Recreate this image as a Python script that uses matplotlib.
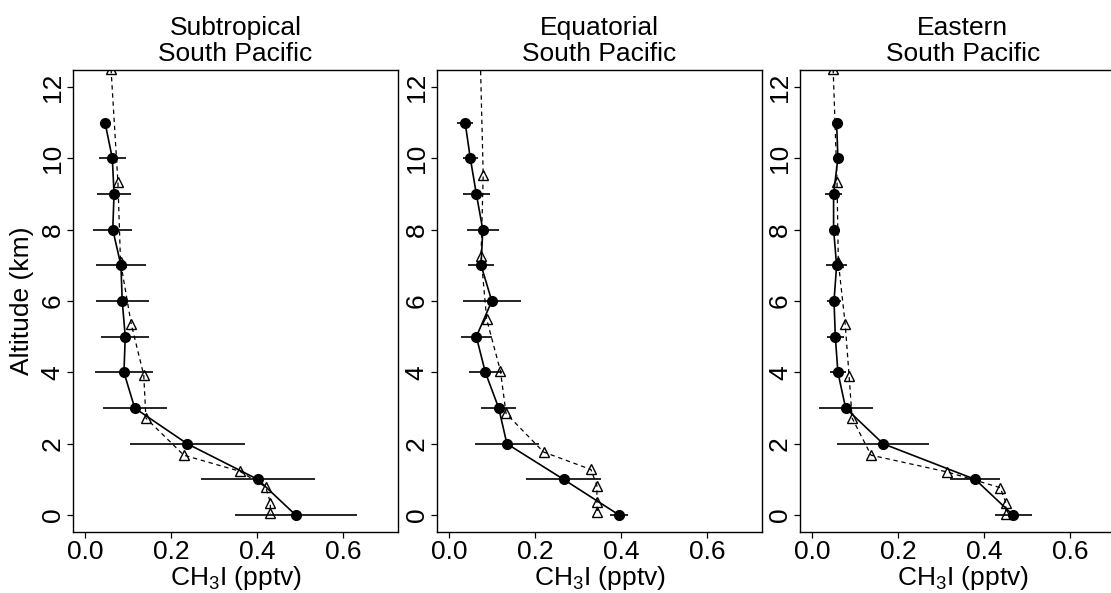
import matplotlib
matplotlib.use("Agg")
import matplotlib.pyplot as plt

plt.rcParams['font.family'] = ['Liberation Sans', 'DejaVu Sans']
plt.rcParams['mathtext.fontset'] = 'custom'
plt.rcParams['mathtext.rm'] = 'Liberation Sans'
plt.rcParams['mathtext.it'] = 'Liberation Sans:italic'

titles = ["Subtropical\nSouth Pacific", "Equatorial\nSouth Pacific", "Eastern\nSouth Pacific"]

# Observations (filled circles, solid line, horizontal error bars)
obs_alt = [0, 1, 2, 3, 4, 5, 6, 7, 8, 9, 10, 11]
obs_sub = [0.490, 0.402, 0.238, 0.116, 0.091, 0.094, 0.087, 0.084, 0.065, 0.068, 0.064, 0.047]
err_sub = [0.141, 0.132, 0.134, 0.074, 0.067, 0.056, 0.062, 0.058, 0.045, 0.039, 0.031, 0.012]
obs_equ = [0.396, 0.267, 0.135, 0.116, 0.085, 0.064, 0.100, 0.075, 0.079, 0.064, 0.050, 0.038]
err_equ = [0.021, 0.087, 0.074, 0.041, 0.038, 0.036, 0.067, 0.030, 0.037, 0.032, 0.017, 0.018]
obs_eas = [0.467, 0.379, 0.165, 0.078, 0.060, 0.054, 0.051, 0.057, 0.050, 0.050, 0.060, 0.057]
err_eas = [0.043, 0.058, 0.107, 0.063, 0.019, 0.020, 0.017, 0.025, 0.007, 0.020, 0.005, 0.004]

# Model (open triangles, dashed line)
mod_alt_sub = [12.5, 9.33, 7.1, 5.35, 3.92, 2.72, 1.68, 1.23, 0.79, 0.35, 0.05]
mod_sub = [0.061, 0.077, 0.083, 0.108, 0.137, 0.142, 0.230, 0.360, 0.420, 0.431, 0.431]
mod_alt_equ = [12.9, 9.54, 7.25, 5.49, 4.04, 2.85, 1.77, 1.28, 0.83, 0.38, 0.08]
mod_equ = [0.073, 0.080, 0.075, 0.088, 0.120, 0.133, 0.220, 0.330, 0.344, 0.344, 0.345]
mod_alt_eas = [12.5, 9.33, 7.09, 5.35, 3.90, 2.72, 1.68, 1.21, 0.77, 0.35, 0.04]
mod_eas = [0.049, 0.058, 0.061, 0.077, 0.086, 0.093, 0.137, 0.314, 0.437, 0.450, 0.450]

xticks = [0.0, 0.2, 0.4, 0.6]
xticklabels = ["0.0", "0.2", "0.4", "0.6"]
yticks = [0, 2, 4, 6, 8, 10, 12]
ylabels = ["0", "2", "4", "6", "8", "10", "12"]

panels = [
    (obs_sub, err_sub, mod_alt_sub, mod_sub),
    (obs_equ, err_equ, mod_alt_equ, mod_equ),
    (obs_eas, err_eas, mod_alt_eas, mod_eas),
]

W, H = 1111, 593
fig = plt.figure(figsize=(W / 100, H / 100), dpi=100)
lefts = [72.7, 436.7, 800.0]
axw, axb, axh = 325.6, 60.7, 462.6
FS = 19

for i, (obs, err, malt, mod) in enumerate(panels):
    ax = fig.add_axes([lefts[i] / W, axb / H, axw / W, axh / H])
    ax.errorbar(obs, obs_alt, xerr=err, fmt='none', ecolor='black',
                elinewidth=1.2, capsize=0, zorder=2)
    ax.plot(obs, obs_alt, '-', color='black', lw=1.2, marker='o',
            markersize=7.0, markerfacecolor='black', markeredgecolor='black', zorder=3)
    ax.plot(mod, malt, linestyle=(0, (3.5, 3)), color='black', lw=0.9, marker='^',
            markersize=7.5, markerfacecolor='none', markeredgecolor='black',
            markeredgewidth=1.0, zorder=4)
    ax.set_xlim(-0.028, 0.728)
    ax.set_ylim(-0.48, 12.48)
    ax.set_xticks(xticks)
    ax.set_xticklabels(xticklabels)
    ax.set_yticks(yticks)
    ax.set_yticklabels(ylabels, rotation=90, va='center')
    ax.tick_params(direction='out', length=4.3, width=0.9, labelsize=FS, pad=1.5)
    for s in ax.spines.values():
        s.set_linewidth(1.0)
    ax.set_title(titles[i], fontsize=FS, pad=6.5, linespacing=1.07)
    ax.set_xlabel(r'CH$_{\mathregular{3}}$I (pptv)', fontsize=FS, labelpad=0)
    if i == 0:
        ax.set_ylabel('Altitude (km)', fontsize=FS, labelpad=5)

fig.savefig('out.png', dpi=100)
